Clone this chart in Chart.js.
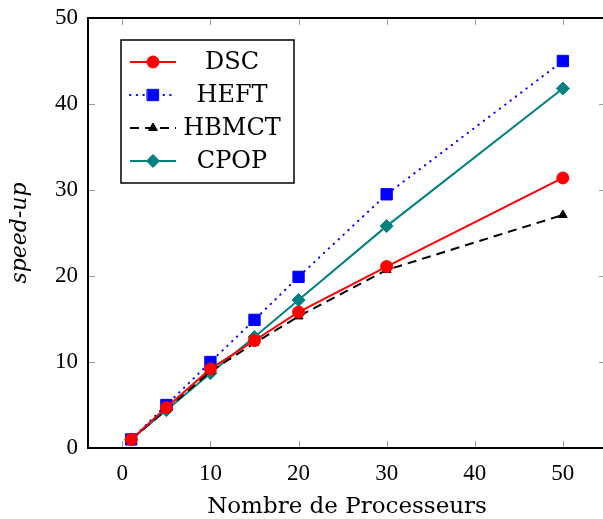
<!DOCTYPE html>
<html>
<head>
<meta charset="utf-8">
<script src="https://cdn.jsdelivr.net/npm/chart.js@4"></script>
<style>
  html, body { margin: 0; padding: 0; background: #fff; overflow: hidden; }
  #wrap { width: 603px; height: 519px; overflow: hidden; }
</style>
</head>
<body>
<!-- canvas is a bit wider than the window: the right spine sits at the edge like the original -->
<div id="wrap"><canvas id="speedup" width="615" height="519"></canvas></div>
<script>
const processors = [1, 5, 10, 15, 20, 30, 50];
const dscValues   = [1, 4.7, 9.2, 12.5, 15.8, 21.1, 31.4];
const heftValues  = [1, 5.0, 10.0, 14.9, 19.9, 29.5, 45.0];
const hbmctValues = [1, 4.5, 8.9, 12.2, 15.3, 20.7, 27.1];
const cpopValues  = [1, 4.4, 8.7, 12.9, 17.2, 25.8, 41.8];
const xTicks = [0, 10, 20, 30, 40, 50];
const yTicks = [0, 10, 20, 30, 40, 50];
const seriesNames = ["DSC", "HEFT", "HBMCT", "CPOP"];

const serif = "'DejaVu Serif', serif";
const digits = "'Liberation Serif', serif";

function toPoints(values) {
    return processors.map((p, i) => ({ x: p, y: values[i] }));
}

function makeSeries(label, values, color, pointStyle, radius, dash, cap) {
    return {
        label: label,
        data: toPoints(values),
        borderColor: color,
        backgroundColor: color,
        pointBackgroundColor: color,
        pointBorderColor: color,
        borderWidth: 2,
        borderDash: dash,
        borderCapStyle: cap,
        pointStyle: pointStyle,
        pointRadius: radius,
        pointBorderWidth: 1,
        tension: 0
    };
}

function noPadding(s) {
    s.paddingTop = 0; s.paddingBottom = 0; s.paddingLeft = 0; s.paddingRight = 0;
}

// pgfplots-style frame, inward gray ticks and legend box
const framePlugin = {
    id: 'frame',
    beforeDatasetsDraw(chart) {
        const ctx = chart.ctx, a = chart.chartArea;
        const xs = chart.scales.x, ys = chart.scales.y;
        ctx.save();
        ctx.strokeStyle = '#9a9a9a';
        ctx.lineWidth = 1;
        ctx.beginPath();
        xTicks.forEach(v => {
            const px = Math.round(xs.getPixelForValue(v)) + 0.5;
            ctx.moveTo(px, a.bottom); ctx.lineTo(px, a.bottom - 7);
            ctx.moveTo(px, a.top); ctx.lineTo(px, a.top + 7);
        });
        yTicks.forEach(v => {
            const py = Math.round(ys.getPixelForValue(v)) + 0.5;
            ctx.moveTo(a.left, py); ctx.lineTo(a.left + 7, py);
            ctx.moveTo(a.right, py); ctx.lineTo(a.right - 7, py);
        });
        ctx.stroke();
        ctx.restore();
    },
    afterDraw(chart) {
        const ctx = chart.ctx, a = chart.chartArea;
        ctx.save();
        ctx.strokeStyle = '#000';
        ctx.lineWidth = 2;
        ctx.strokeRect(a.left, a.top, a.right - a.left, a.bottom - a.top);

        // legend
        const box = { x: 121, y: 40, w: 173, h: 143 };
        ctx.fillStyle = '#fff';
        ctx.fillRect(box.x, box.y, box.w, box.h);
        ctx.lineWidth = 1.5;
        ctx.strokeRect(box.x, box.y, box.w, box.h);
        const rowY = [62, 95, 128, 161];
        chart.data.datasets.forEach((ds, i) => {
            const y = rowY[i];
            ctx.save();
            ctx.strokeStyle = ds.borderColor;
            ctx.lineWidth = ds.borderWidth;
            ctx.setLineDash(ds.borderDash || []);
            ctx.lineCap = ds.borderCapStyle;
            ctx.beginPath();
            ctx.moveTo(130, y); ctx.lineTo(176, y);
            ctx.stroke();
            ctx.setLineDash([]);
            ctx.fillStyle = ds.pointBackgroundColor;
            ctx.strokeStyle = ds.pointBorderColor;
            ctx.lineWidth = 1;
            Chart.helpers.drawPoint(ctx, { pointStyle: ds.pointStyle, radius: ds.pointRadius, rotation: 0, borderWidth: 1 }, 153, y);
            ctx.restore();
            ctx.fillStyle = '#000';
            ctx.font = "24px " + serif;
            ctx.textAlign = 'center';
            ctx.textBaseline = 'middle';
            ctx.fillText(seriesNames[i], 232, y + 1);
        });
        ctx.restore();
    }
};

const ctx = document.getElementById('speedup').getContext('2d');
const speedChart = new Chart(ctx, {
    type: 'line',
    data: {
        datasets: [
            makeSeries(seriesNames[0], dscValues, '#ff0000', 'circle', 6, [], 'butt'),
            makeSeries(seriesNames[1], heftValues, '#0000ff', 'rect', 8, [0.5, 6.2], 'round'),
            makeSeries(seriesNames[2], hbmctValues, '#000000', 'triangle', 5, [9, 6], 'butt'),
            makeSeries(seriesNames[3], cpopValues, '#008080', 'rectRot', 6.5, [], 'butt')
        ]
    },
    options: {
        responsive: false,
        animation: false,
        // right padding ends up = point overflow (9px), so the frame lands at x=606
        layout: { padding: { top: 18, right: 0, left: 0, bottom: 0 } },
        plugins: { legend: { display: false }, tooltip: { enabled: false } },
        scales: {
            x: {
                type: 'linear',
                min: -3.9,
                max: 54.9,
                afterBuildTicks: s => { s.ticks = xTicks.map(v => ({ value: v })); },
                afterFit: s => { s.height = 71; noPadding(s); },
                grid: { display: false, drawTicks: false },
                border: { display: false },
                ticks: { color: '#000', padding: 12, font: { family: digits, size: 23 } },
                title: {
                    display: true,
                    text: 'Nombre de Processeurs',
                    color: '#000',
                    padding: { top: 0, bottom: -2 },
                    font: { family: serif, size: 23 }
                }
            },
            y: {
                min: 0,
                max: 50,
                afterBuildTicks: s => { s.ticks = yTicks.map(v => ({ value: v })); },
                afterFit: s => { s.width = 88; noPadding(s); },
                grid: { display: false, drawTicks: false },
                border: { display: false },
                ticks: { color: '#000', padding: 10, font: { family: digits, size: 23 } },
                title: {
                    display: true,
                    text: 'speed-up',
                    color: '#000',
                    padding: { top: 7, bottom: 0 },
                    font: { family: serif, size: 22, style: 'italic' }
                }
            }
        }
    },
    plugins: [framePlugin]
});
</script>
</body>
</html>
